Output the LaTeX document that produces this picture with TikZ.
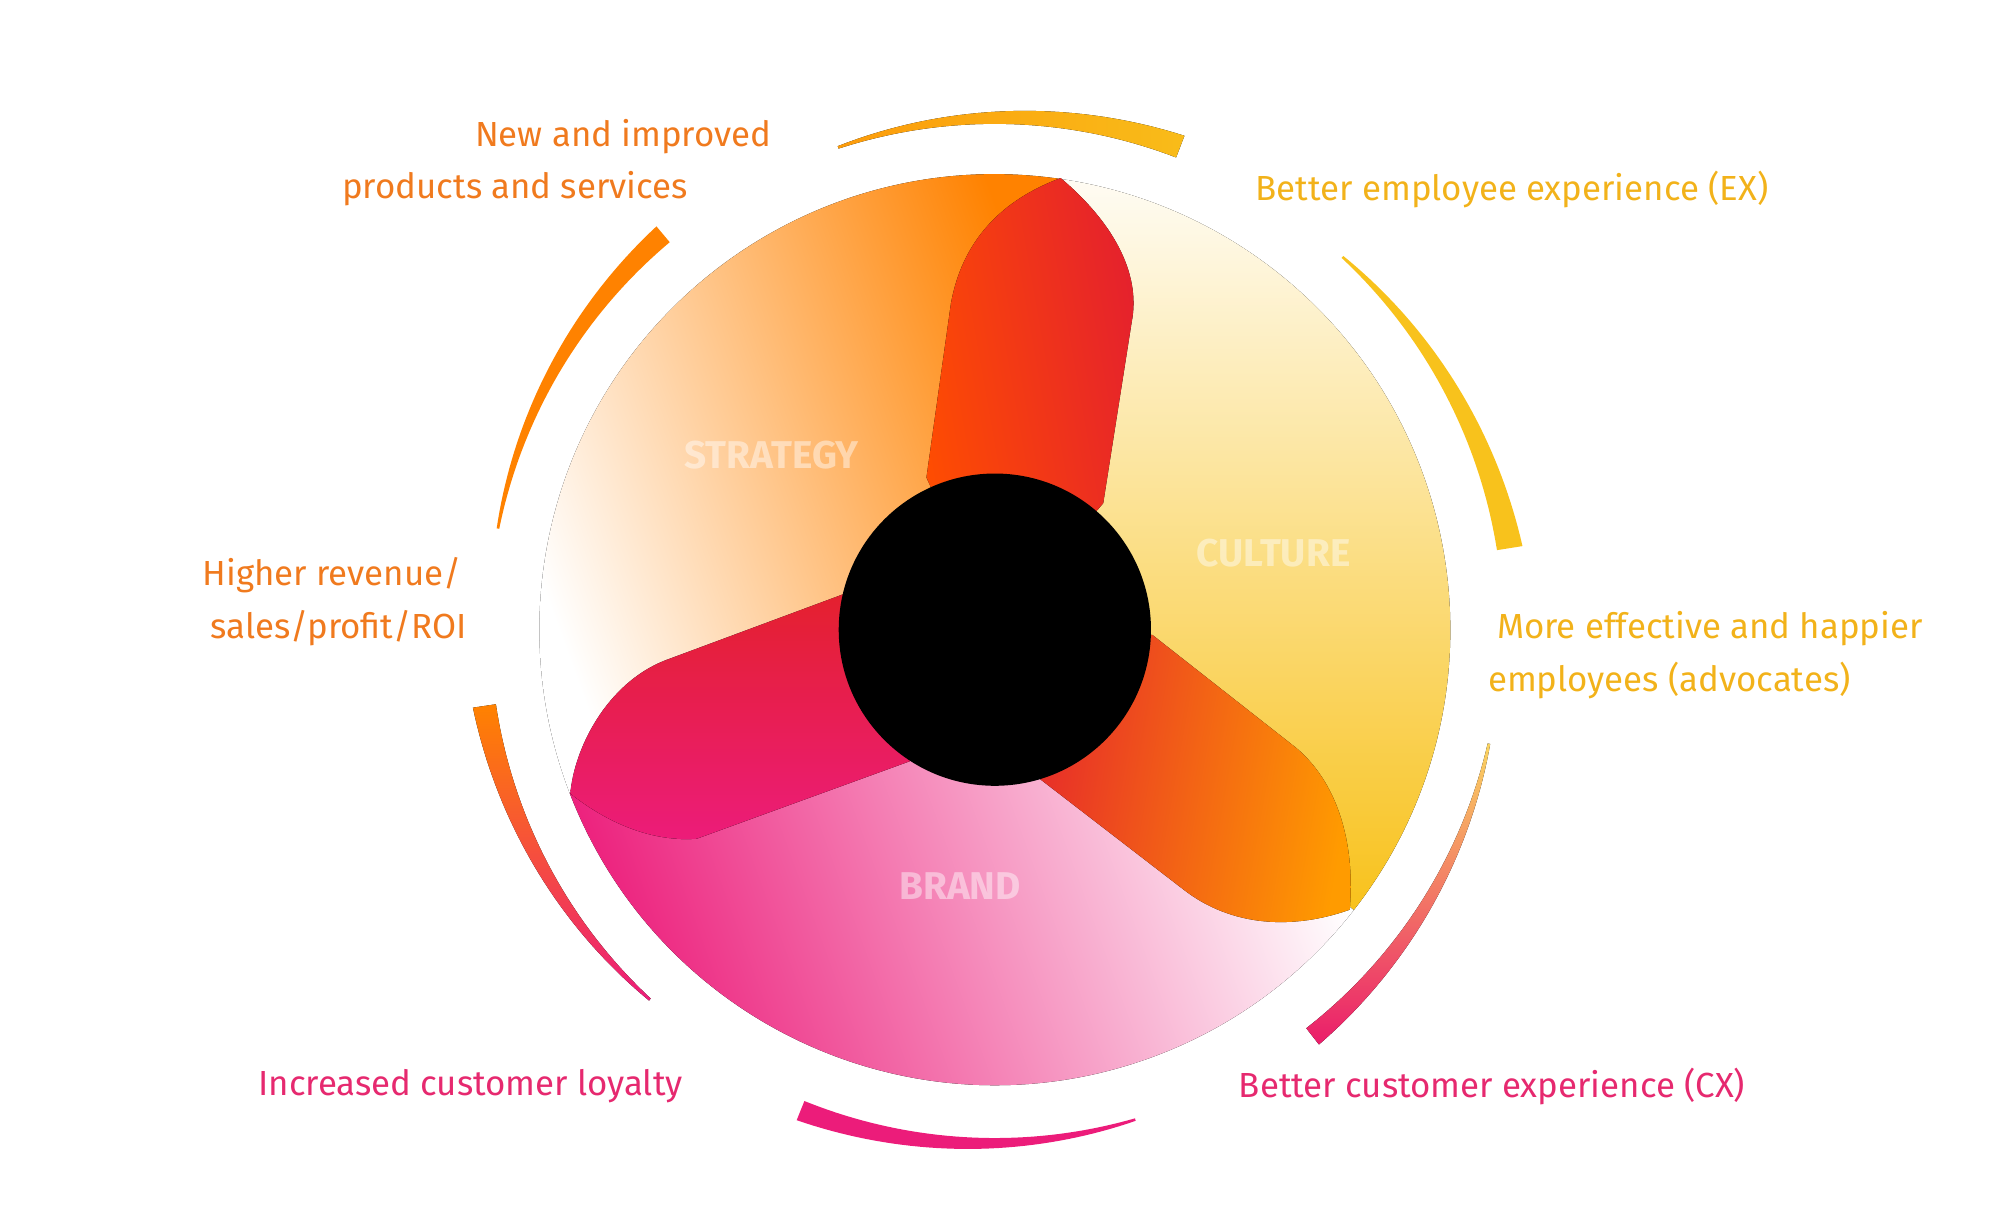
\documentclass[tikz,border=0pt]{standalone}
\usepackage{fontspec}
\setmainfont{Fira Sans}
\definecolor{corange}{HTML}{F07A1E}
\definecolor{cyellow}{HTML}{F2B21A}
\definecolor{cpink}{HTML}{E6296F}
\definecolor{borange}{HTML}{FF8200}
\definecolor{byellow}{HTML}{F8C21C}
\definecolor{bpink}{HTML}{EC1C7A}
\definecolor{bred}{HTML}{E4202E}
\newcommand\feedarc[5]{\fill[#5] plot[domain=#1:#2,samples=40] (\x:{#3+2+#4*(\x-#1)/(#2-#1)}) -- plot[domain=#2:#1,samples=40] (\x:#3) -- cycle;}
\begin{document}
\begin{tikzpicture}[x=1pt,y=1pt,
  lbl/.style={anchor=west,font=\fontsize{27}{32}\selectfont,inner sep=0pt},
  sect/.style={font=\fontsize{30}{36}\selectfont\bfseries,text=white,opacity=0.45}]
\useasboundingbox (0,0) rectangle (1550,950);
\coordinate (c) at (771,462);
\begin{scope}[shift={(771,462)}]
% sectors
\fill[left color=white,middle color=borange!75!white,right color=borange,shading angle=110] (0,0) -- (82:353) arc[start angle=82,end angle=201,radius=353] -- cycle;
\fill[top color=white!95!byellow,bottom color=byellow] (0,0) -- (-38:353) arc[start angle=-38,end angle=82,radius=353] -- cycle;
\fill[left color=bpink,middle color=bpink!75!white,right color=white,shading angle=110] (0,0) -- (201:353) arc[start angle=201,end angle=322,radius=353] -- cycle;
% feedback arcs
\feedarc{108}{69}{392}{16}{left color=borange!60!byellow,right color=byellow!90!borange}
\feedarc{47}{9}{394}{18}{byellow}
\feedarc{-13}{-52}{392}{14}{top color=byellow!70!white,bottom color=bpink!80!bred}
\feedarc{-74}{-112}{394}{14}{bpink}
\feedarc{-133}{-171.5}{391}{16}{top color=borange,bottom color=bpink}
\feedarc{168.5}{130}{392}{14}{borange}
\end{scope}
% blades
\fill[left color=borange!60!red,right color=bred,shading angle=100] (c) -- (718,580) -- (737,715) .. controls (748,775) and (790,800) .. (822,812) .. controls (860,780) and (885,740) .. (877,700) -- (855,560) -- cycle;
\fill[top color=bred,bottom color=bpink] (c) -- (655,490) -- (515,438) .. controls (470,420) and (445,370) .. (442,335) .. controls (480,305) and (515,298) .. (540,300) -- (705,360) -- cycle;
\fill[left color=bred,right color=borange!80!yellow,shading angle=80] (c) -- (893,458) -- (1005,370) .. controls (1040,340) and (1050,290) .. (1046,245) .. controls (1010,232) and (960,228) .. (918,260) -- (805,347) -- cycle;
\fill[black] (c) circle[radius=121];
% sector labels
\node[sect] (s1) at (598,597) {STRATEGY};
\node[sect] (s2) at (987,521) {CULTURE};
\node[sect] (s3) at (744,263) {BRAND};
% outcome labels
\node[lbl,text=corange] (t1) at (368,844) {New and improved};
\node[lbl,text=corange] (t2) at (265,804) {products and services};
\node[lbl,text=cyellow] (t3) at (973,803) {Better employee experience (EX)};
\node[lbl,text=cyellow] (t4) at (1160,463) {More effective and happier};
\node[lbl,text=cyellow] (t5) at (1153,423) {employees (advocates)};
\node[lbl,text=corange] (t6) at (157,504) {Higher revenue/};
\node[lbl,text=corange] (t7) at (163,463) {sales/profit/ROI};
\node[lbl,text=cpink] (t8) at (200,108) {Increased customer loyalty};
\node[lbl,text=cpink] (t9) at (960,108) {Better customer experience (CX)};
\end{tikzpicture}
\end{document}
